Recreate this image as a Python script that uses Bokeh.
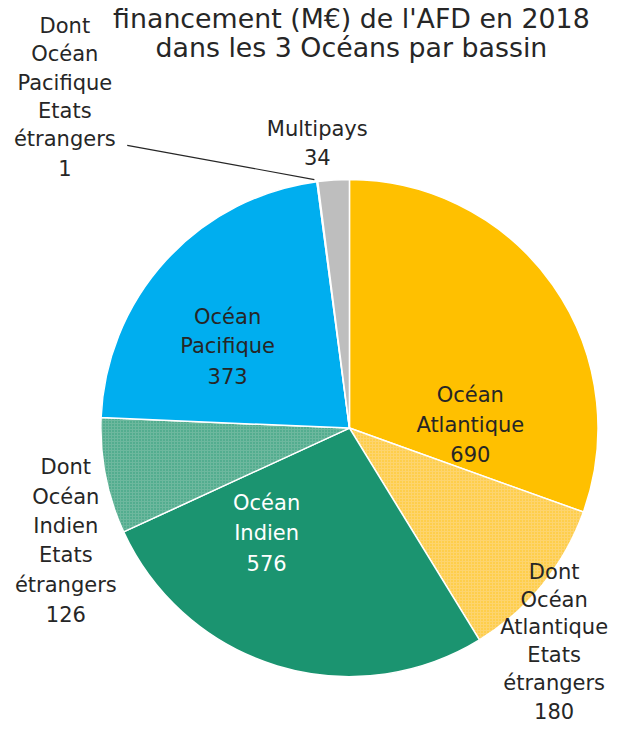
import math
from bokeh.plotting import figure
from bokeh.models import Range1d
from bokeh.core.properties import value
from bokeh.embed import file_html
from bokeh.resources import INLINE

# ---- data ----
basins = ["Océan Atlantique", "Océan Indien", "Océan Pacifique"]
basin_totals = [690, 576, 373]
basin_foreign = [180, 126, 1]
multipays = 34

title_lines = ["financement (M€) de l'AFD en 2018", "dans les 3 Océans par bassin"]

# slices, clockwise from 12 o'clock
slice_values = [
    basin_totals[0] - basin_foreign[0], basin_foreign[0],
    basin_totals[1] - basin_foreign[1], basin_foreign[1],
    basin_totals[2] - basin_foreign[2], basin_foreign[2],
    multipays,
]
slice_colors = ["#FFC000", "#FDD46E", "#1B9470", "#6DB89E", "#00AEEF", "#F06C8E", "#BEBEBE"]
slice_hatch = [" ", "dot", " ", "dot", " ", " ", " "]
slice_hatch_color = ["#FFC000", "#FFC000", "#1B9470", "#1B9470", "#00AEEF", "#F06C8E", "#BEBEBE"]

W, H = 617, 726
S = W / 633.0
FONT = "DejaVu Sans"

p = figure(width=W, height=H, output_backend="svg", toolbar_location=None,
           x_range=Range1d(0, 633), y_range=Range1d(0, 742),
           min_border=0)
p.axis.visible = False
p.grid.visible = False
p.outline_line_color = None
p.background_fill_color = "white"

def Y(img_y):
    return 742 - img_y

cx, cy, r = 358, Y(437), 255
total = sum(slice_values)
cum = 0.0
starts, ends = [], []
for v in slice_values:
    a0 = math.pi / 2 - cum / total * 2 * math.pi
    cum += v
    a1 = math.pi / 2 - cum / total * 2 * math.pi
    starts.append(a0)
    ends.append(a1)

for i in range(len(slice_values)):
    p.wedge(x=cx, y=cy, radius=r, start_angle=starts[i], end_angle=ends[i],
            direction="clock", fill_color=slice_colors[i], line_color="white",
            line_width=1.5, hatch_pattern=slice_hatch[i],
            hatch_color=slice_hatch_color[i], hatch_scale=3, hatch_weight=1,
            hatch_alpha=0.8)

def lines(x, y0, txts, color="#262626", size=21.5, step=30.5):
    for k, t in enumerate(txts):
        p.text(x=[x], y=[Y(y0 + k * step)], text=[t], text_align="center",
               text_baseline="middle", text_color=color,
               text_font_size="%.1fpx" % (size * S),
               text_font=value(FONT))

# title
lines(360, 18, title_lines[:1], size=27.5)
lines(360, 48, title_lines[1:], size=27.5)

# inside labels
lines(482, 403, ["Océan", "Atlantique", str(basin_totals[0])])
lines(273, 514, ["Océan", "Indien", str(basin_totals[1])], color="white")
lines(233, 323, ["Océan", "Pacifique", str(basin_totals[2])])

# outside labels
lines(568, 584, ["Dont", "Océan", "Atlantique", "Etats", "étrangers", str(basin_foreign[0])], step=28.4)
lines(67, 477, ["Dont", "Océan", "Indien", "Etats", "étrangers", str(basin_foreign[1])], step=30)
lines(66, 26, ["Dont", "Océan", "Pacifique", "Etats", "étrangers", str(basin_foreign[2])], step=29)
lines(325, 131, ["Multipays", str(multipays)], step=29)

# leader line
p.line(x=[130, 322], y=[Y(148), Y(183)], line_color="#262626", line_width=1.2)

open("out.html", "w").write(file_html(p, INLINE))
